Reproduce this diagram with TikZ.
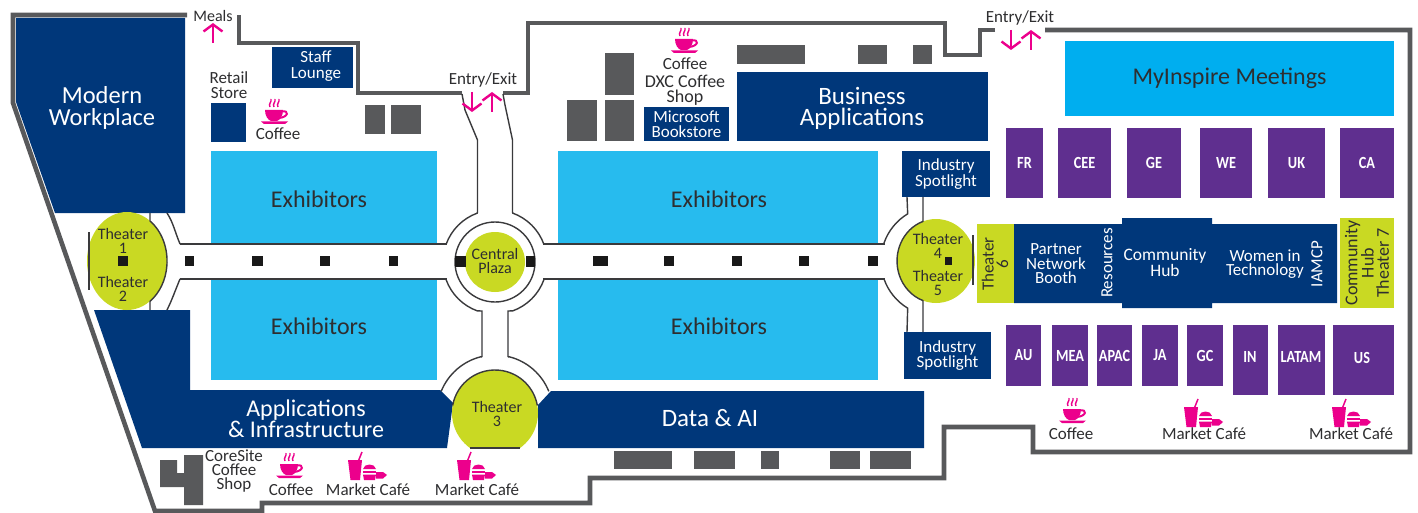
\documentclass[tikz,border=0pt]{standalone}
\usepackage{fontspec}
\setmainfont{Carlito}
\newfontfamily\condf[FakeStretch=0.84]{Carlito}
\usetikzlibrary{arrows.meta}
\definecolor{navyc}{HTML}{00377A}
\definecolor{skyc}{HTML}{27BBEE}
\definecolor{meetc}{HTML}{00AEEF}
\definecolor{purplec}{HTML}{5F2F8F}
\definecolor{limec}{HTML}{C9D923}
\definecolor{greyc}{HTML}{58595B}
\definecolor{pinkc}{HTML}{EC008C}
\definecolor{inkc}{HTML}{2E2E30}
\definecolor{linec}{HTML}{3A3A3C}
\newcommand{\fs}[1]{\fontsize{#1}{\the\dimexpr#1pt*17/20\relax}\selectfont}
\newcommand{\room}[7]{%
  \node[#6,minimum width={(#4-#2)*1pt},minimum height={(#5-#3)*1pt}] (#1) at ({(#2+#4)/2},{(#3+#5)/2}) {#7};}
\tikzset{
  navybox/.style={fill=navyc,text=white,inner sep=0pt,align=center},
  skybox/.style={fill=skyc,inner sep=0pt},
  meetbox/.style={fill=meetc,text=inkc,inner sep=0pt,align=center,font=\fs{24}},
  purplebox/.style={fill=purplec,text=white,inner sep=0pt,align=center,font=\condf\fs{17}\bfseries},
  greybox/.style={fill=greyc,inner sep=0pt},
  limebox/.style={fill=limec,inner sep=0pt},
  lab/.style={text=inkc,inner sep=0pt,align=center,font=\fs{17}},
  bigwhite/.style={text=white,inner sep=0pt,align=center,font=\fs{25}},
  hubwhite/.style={text=white,inner sep=0pt,align=center,font=\fs{17}},
  exlab/.style={text=inkc,inner sep=0pt,font=\fs{24}},
  thlab/.style={text=inkc,inner sep=0pt,align=center,font=\fs{16}},
  wall/.style={draw=greyc,line width=4.6pt,miter limit=10,line cap=butt},
  thin wall/.style={draw=linec,line width=1.4pt},
  pinkarrow/.style={draw=pinkc,line width=2.4pt,-{Straight Barb[length=7pt,width=19pt]}},
  pillar/.style={fill=black!90,inner sep=0pt},
  coffeecup/.pic={
    \begin{scope}[yscale=-1]
    \fill[pinkc] (-11,0) -- (7,0) .. controls (7,6) and (4,10) .. (1,11) -- (-5,11) .. controls (-8,10) and (-11,6) .. (-11,0) -- cycle;
    \draw[pinkc,line width=2pt] (6,1.5) .. controls (13,0) and (13,7) .. (3,8);
    \fill[pinkc] (-15,11.5) -- (12,11.5) -- (9,14) -- (-12,14) -- cycle;
    \draw[pinkc,line width=1.4pt] (-6,-3) .. controls (-8,-6) and (-4,-8) .. (-5,-11);
    \draw[pinkc,line width=1.4pt] (-2,-3) .. controls (-4,-6) and (0,-8) .. (-1,-11);
    \draw[pinkc,line width=1.4pt] (2,-3) .. controls (0,-6) and (4,-8) .. (3,-11);
    \end{scope}
  },
  marketicon/.pic={
    \begin{scope}[yscale=-1]
    \fill[pinkc] (-1,2) -- (13,2) -- (11,22) -- (1.5,22) -- cycle;
    \draw[pinkc,line width=1.5pt] (9,4) -- (13,-6);
    \fill[pinkc] (14,11) .. controls (15,5) and (26,5) .. (27,11) -- cycle;
    \fill[pinkc] (14,12.5) -- (27,12.5) -- (27,15) -- (14,15) -- cycle;
    \fill[pinkc] (14,16.5) -- (27,16.5) -- (26,22) -- (15,22) -- cycle;
    \fill[pinkc] (27,14) -- (34,14) -- (38,17) -- (34,20.5) -- (27,20.5) -- cycle;
    \end{scope}
  }
}
\begin{document}
\begin{tikzpicture}[x=1pt,y=1pt,yscale=-1]
\useasboundingbox (0,0) rectangle (1418,513);
\fill[white] (0,0) rectangle (1418,513);

% outer walls
\draw[wall] (187,15) -- (13,15) -- (13,103) -- (155,511) -- (262,511) -- (262,503) -- (590,503) -- (590,478) -- (944,478) -- (944,427) -- (1033,427) -- (1033,452) -- (1410,452) -- (1410,30) -- (1045,30);
\draw[wall] (995,30) -- (980,30) -- (980,55) -- (945,55) -- (945,23) -- (528,23) -- (528,93) -- (503,93);
\draw[wall] (462,93) -- (358,93) -- (358,43) -- (239,43) -- (239,15);

% dark-blue polygons
\fill[navyc] (16,18) -- (185,18) -- (185,213) -- (55,213) -- (16,102) -- cycle;
\fill[navyc] (94,310) -- (190,310) -- (190,390) -- (440,390) -- (453,403) -- (447,448) -- (142,448) -- cycle;
\fill[navyc] (551,391) -- (924,391) -- (924,448) -- (538,448) -- (538,405) -- cycle;
\fill[navyc] (1014,224) -- (1122,224) -- (1122,218) -- (1212,218) -- (1212,224) -- (1337,224) -- (1337,303) -- (1212,303) -- (1212,308) -- (1122,308) -- (1122,303) -- (1014,303) -- cycle;
\node[bigwhite,font=\fs{24.5}] (mw) at (102,108) {Modern\\[1pt]Workplace};
\node[bigwhite,font=\fs{24}] (ai) at (306,419) {Applications\\[1pt]\& Infrastructure};
\node[bigwhite] (da) at (710,418) {Data \& AI};

% plain rooms
\room{staff}{272}{47}{353}{88}{navybox}{}
\node[hubwhite] (staffl) at (316,66) {Staff\\[1pt]Lounge};
\room{retail}{211}{103}{246}{142}{navybox}{}
\room{bookstore}{644}{107}{729}{141}{navybox,font=\fs{17}}{Microsoft\\Bookstore}
\room{bizapps}{737}{72}{988}{141}{navybox}{}
\node[bigwhite] (bizl) at (862,108.5) {Business\\Applications};
\room{spot1}{902}{151}{990}{197}{navybox,font=\fs{17}}{Industry\\Spotlight}
\room{spot2}{904}{332}{991}{379}{navybox,font=\fs{17}}{Industry\\Spotlight}
\room{ex1}{211}{151}{437}{244}{skybox}{}
\room{ex2}{211}{279}{437}{380}{skybox}{}
\room{ex3}{558}{151}{878}{245}{skybox}{}
\room{ex4}{558}{279}{878}{380}{skybox}{}
\node[exlab] (ex1l) at (319,199) {Exhibitors};
\node[exlab] (ex2l) at (319,326) {Exhibitors};
\node[exlab] (ex3l) at (719,199) {Exhibitors};
\node[exlab] (ex4l) at (719,326) {Exhibitors};
\room{meet}{1065}{41}{1394}{116}{meetbox}{MyInspire Meetings}

% grey blocks
\room{g1}{365}{105}{385}{134}{greybox}{}
\room{g2}{391}{105}{421}{134}{greybox}{}
\room{g3}{567}{100}{597}{141}{greybox}{}
\room{g4}{605}{53}{634}{95}{greybox}{}
\room{g5}{605}{100}{634}{141}{greybox}{}
\room{g6}{737}{45}{805}{64}{greybox}{}
\room{g7}{858}{45}{887}{64}{greybox}{}
\room{g8}{913}{45}{932}{64}{greybox}{}
\room{g9}{614}{451}{672}{469}{greybox}{}
\room{g10}{694}{451}{735}{469}{greybox}{}
\room{g11}{761}{451}{779}{469}{greybox}{}
\room{g12}{830}{451}{860}{469}{greybox}{}
\room{g13}{870}{451}{911}{469}{greybox}{}
\fill[greyc] (184,455) -- (203,455) -- (203,505) -- (184,505) -- (184,487) -- (160,487) -- (160,460) -- (177,460) -- (177,473) -- (184,473) -- cycle;

% purple booths
\room{fr}{1006}{128}{1043}{198}{purplebox}{FR}
\room{cee}{1058}{128}{1111}{198}{purplebox}{CEE}
\room{ge}{1127}{128}{1181}{198}{purplebox}{GE}
\room{we}{1200}{128}{1252}{198}{purplebox}{WE}
\room{uk}{1268}{128}{1325}{198}{purplebox}{UK}
\room{ca}{1340}{128}{1394}{198}{purplebox}{CA}
\room{au}{1006}{325}{1041}{386}{purplebox}{AU}
\room{mea}{1052}{325}{1088}{386}{purplebox}{MEA}
\room{apac}{1097}{325}{1132}{386}{purplebox}{APAC}
\room{ja}{1142}{325}{1178}{386}{purplebox}{JA}
\room{gc}{1187}{325}{1223}{386}{purplebox}{GC}
\room{inb}{1233}{325}{1268}{395}{purplebox}{}
\room{latam}{1278}{325}{1325}{395}{purplebox}{}
\room{us}{1333}{325}{1394}{395}{purplebox}{}
\node[purplebox,fill=none] (inl) at (1250,357) {IN};
\node[purplebox,fill=none] (latl) at (1301,357) {LATAM};
\node[purplebox,fill=none] (usl) at (1362,358) {US};

% lime rooms
\room{th6}{977}{224}{1014}{303}{limebox}{}
\node[thlab,font=\fs{17},rotate=90] (th6l) at (995,264) {Theater\\6};
\room{th7}{1340}{218}{1394}{308}{limebox}{}
\node[thlab,font=\fs{18},rotate=90] (th7l) at (1367,263) {Community\\Hub\\Theater 7};

% hub labels
\node[hubwhite] (pnb) at (1056,264) {Partner\\Network\\Booth};
\node[hubwhite,rotate=90] (res) at (1107,263) {Resources};
\node[hubwhite,font=\fs{17.5}] (hub) at (1165,263) {Community\\Hub};
\node[hubwhite] (wit) at (1265,264) {Women in\\Technology};
\node[hubwhite,rotate=90] (iam) at (1317,264) {IAMCP};

% corridor walls: horizontals
\draw[thin wall] (180,244) -- (447,244);
\draw[thin wall] (180,279) -- (447,279);
\draw[thin wall] (543,244) -- (885,244);
\draw[thin wall] (543,279) -- (885,279);

% central plaza
\coordinate (cp) at (495,262);
\draw[thin wall] (cp) ++(200:52pt) arc[start angle=200,end angle=250,radius=52pt] -- (477.5,212) -- (477.5,140) -- (465,110) -- (462,94);
\draw[thin wall] (cp) ++(340:52pt) arc[start angle=340,end angle=290,radius=52pt] -- (512.5,212) -- (512.5,140) -- (505,105) -- (503,94);
\draw[thin wall] (cp) ++(160:52pt) arc[start angle=160,end angle=110,radius=52pt] -- (482,311) -- (482,357);
\draw[thin wall] (cp) ++(20:52pt) arc[start angle=20,end angle=70,radius=52pt] -- (508,311) -- (508,357);
\draw[thin wall] (cp) circle[radius=40pt];
\fill[limec] (cp) circle[radius=30pt];
\room{sq0}{455}{256}{466}{267}{pillar}{}
\room{sq9}{526}{256}{535}{267}{pillar}{}
\node[thlab] (plaza) at (495,261) {Central\\Plaza};

% theater 3
\coordinate (t3) at (495,413);
\draw[thin wall] (t3) ++(202:58pt) arc[start angle=202,end angle=256,radius=58pt] -- (482,357);
\draw[thin wall] (t3) ++(338:58pt) arc[start angle=338,end angle=284,radius=58pt] -- (508,357);
\begin{scope}
\clip (440,360) rectangle (550,448);
\fill[limec] (t3) circle[radius=43pt];
\end{scope}
\draw[thin wall] (t3) ++(190:43pt) arc[start angle=190,end angle=350,radius=43pt];
\draw[thin wall] (470,448) -- (520,448);
\node[thlab] (th3) at (497,414) {Theater\\3};

% theaters 1 and 2
\draw[thin wall] (180,244) .. controls (175,232) and (173,222) .. (167,213);
\draw[thin wall] (180,279) .. controls (175,291) and (172,300) .. (167,310);
\coordinate (t1) at (127,261);
\fill[limec] (t1) ellipse[x radius=40pt,y radius=49pt];
\draw[thin wall] (150,213) -- (150,221) arc[start angle=-55,end angle=55,x radius=40pt,y radius=49pt] -- (150,310);
\draw[thin wall] (89,232) -- (89,290);
\node[thlab] (th1) at (123,241) {Theater\\1};
\node[thlab] (th2) at (123,289) {Theater\\2};
\room{sq1}{118}{256}{128}{266}{pillar}{}

% theaters 4 and 5
\coordinate (t4) at (936,261);
\draw[thin wall] (t4) ++(199:55pt) arc[start angle=199,end angle=239,radius=55pt] -- (907,197);
\draw[thin wall] (t4) ++(161:55pt) arc[start angle=161,end angle=121,radius=55pt] -- (907,332);
\fill[limec] (t4) ellipse[x radius=39pt,y radius=42pt];
\draw[thin wall] (923,197) -- (923,221.4) arc[start angle=250.5,end angle=109.5,x radius=39pt,y radius=42pt] -- (923,332);
\draw[thin wall] (973,235) -- (973,285);
\node[thlab] (th4) at (938,246) {Theater\\4};
\node[thlab] (th5) at (938,283) {Theater\\5};
\room{sq2}{945}{257}{952}{265}{pillar}{}

% corridor pillars
\room{p1}{185}{256}{194}{266}{pillar}{}
\room{p2}{252}{256}{263}{266}{pillar}{}
\room{p3}{320}{256}{330}{266}{pillar}{}
\room{p4}{389}{256}{398}{266}{pillar}{}
\room{p5}{593}{256}{608}{266}{pillar}{}
\room{p6}{664}{256}{674}{266}{pillar}{}
\room{p7}{732}{256}{742}{266}{pillar}{}
\room{p8}{799}{256}{809}{266}{pillar}{}
\room{p9}{868}{256}{878}{266}{pillar}{}

% labels
\node[lab,font=\fs{16}] (meals) at (213,16) {Meals};
\node[lab] (ee1) at (483,80) {Entry/Exit};
\node[lab] (ee2) at (1020,18) {Entry/Exit};
\node[lab] (retaill) at (229,85) {Retail\\Store};
\node[lab] (cof1) at (278,134) {Coffee};
\node[lab] (cof2) at (685,64) {Coffee};
\node[lab,font=\fs{18}] (dxc) at (685,90) {DXC Coffee\\Shop};
\node[lab] (core) at (234,471) {CoreSite\\Coffee\\Shop};
\node[lab] (cof3) at (291,490) {Coffee};
\node[lab] (mc1) at (368,490) {Market Café};
\node[lab] (mc2) at (477,490) {Market Café};
\node[lab] (cof4) at (1071,434) {Coffee};
\node[lab] (mc3) at (1204,434) {Market Café};
\node[lab] (mc4) at (1351,434) {Market Café};

% icons
\pic at (276,110) {coffeecup};
\pic at (686,39) {coffeecup};
\pic at (291,464) {coffeecup};
\pic at (1074,409) {coffeecup};
\pic at (349,458) {marketicon};
\pic at (458,458) {marketicon};
\pic at (1185,405) {marketicon};
\pic at (1333,405) {marketicon};

% arrows
\coordinate (a1) at (213,43); \coordinate (b1) at (213,23);
\draw[pinkarrow] (a1) -- (b1);
\coordinate (a2) at (472,92); \coordinate (b2) at (472,112);
\draw[pinkarrow] (a2) -- (b2);
\coordinate (a3) at (492,112); \coordinate (b3) at (492,92);
\draw[pinkarrow] (a3) -- (b3);
\coordinate (a4) at (1011,30); \coordinate (b4) at (1011,50);
\draw[pinkarrow] (a4) -- (b4);
\coordinate (a5) at (1031,50); \coordinate (b5) at (1031,30);
\draw[pinkarrow] (a5) -- (b5);
\end{tikzpicture}
\end{document}
